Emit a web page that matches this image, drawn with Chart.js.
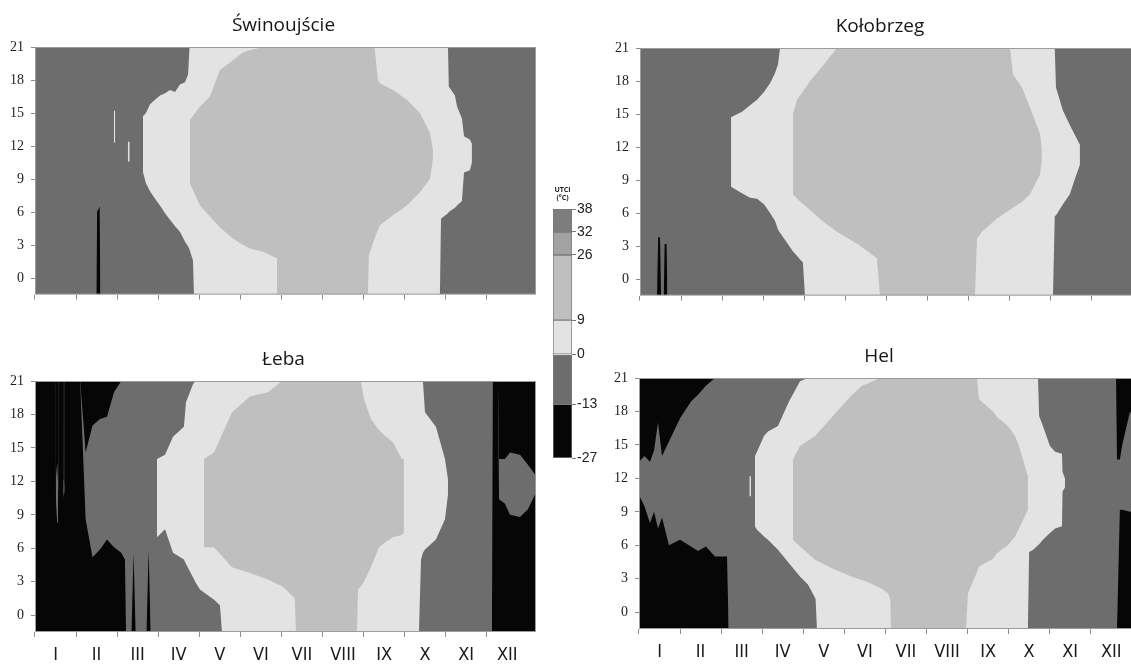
<!DOCTYPE html>
<html>
<head>
<meta charset="utf-8">
<title>UTCI</title>
<script src="https://cdn.jsdelivr.net/npm/chart.js@4.4.1/dist/chart.umd.min.js"></script>
<style>
html, body { margin: 0; padding: 0; background: #fff; overflow: hidden; }
body { width: 1131px; height: 664px; position: relative; }
canvas { position: absolute; }
</style>
</head>
<body>
<canvas id="p-swi" width="567" height="310" style="left:0;top:0"></canvas>
<canvas id="p-kol" width="550" height="310" style="left:605px;top:1px"></canvas>
<canvas id="p-leb" width="567" height="330" style="left:0;top:334px"></canvas>
<canvas id="p-hel" width="550" height="330" style="left:604px;top:331px"></canvas>
<canvas id="scale" width="71" height="295" style="left:527px;top:180px"></canvas>
<script>
// axes
var months = ['I', 'II', 'III', 'IV', 'V', 'VI', 'VII', 'VIII', 'IX', 'X', 'XI', 'XII'];
var monthMid = [15, 45, 75, 105, 135, 165, 195, 225, 255, 285, 315, 345];
var hourTicks = [0, 3, 6, 9, 12, 15, 18, 21];
var utciBounds = [-27, -13, 0, 9, 26, 32, 38];
var utciColors = ['#060606', '#6d6d6d', '#e3e3e3', '#bfbfbf', '#a2a2a2', '#7d7d7d'];

// Świnoujście  (day of year, hour where a class starts / ends)
var swiLightDay = [57.6, 58.6, 63, 67.8, 69.2, 74, 78.9, 81.1, 84.0, 87.7, 91.3, 95.0, 98.6, 102.3, 105.9, 109.6, 111.8, 112.9, 115.4, 116.1, 295.8, 296.6, 301.7, 302.3, 306.8, 308.3, 311.9, 313.4, 317.7, 319.2];
var swiLightLo = [12.3, 12.3, null, 10.6, 10.6, null, 9.6, 8.6, 7.9, 7.2, 6.6, 5.9, 5.3, 4.7, 4.2, 3.3, 2.9, 2.6, 1.6, -1.5, -1.5, 5.4, 5.9, 6.0, 6.4, 6.6, 7.0, 9.6, 9.8, 10.5];
var swiLightHi = [15.2, 15.2, null, 12.4, 12.4, null, 14.7, 15.0, 15.8, 16.2, 16.6, 16.8, 17.1, 16.9, 17.6, 17.8, 18.5, 21, 21, 21, 21, 21, 21, 17.4, 16.6, 15.6, 14.5, 12.9, 12.6, 12.2];
var swiMidDay = [113.2, 120.5, 127.8, 135.1, 144.6, 151.9, 157.0, 166.5, 176.8, 177.5, 243.2, 243.9, 248.1, 250.5, 252.0, 261.5, 271.7, 281.2, 288.5, 290.7];
var swiMidLo = [8.6, 6.6, 5.6, 4.6, 3.6, 3.0, 2.7, 2.4, 1.8, -1.5, -1.5, 2.1, 3.6, 4.4, 4.8, 5.7, 6.6, 7.8, 9.0, 10.8];
var swiMidHi = [14.4, 15.6, 16.5, 18.9, 19.8, 20.5, 20.7, 21, 21, 21, 21, 21, 21, 18.0, 17.7, 17.1, 16.2, 15.0, 13.2, 11.7];
var swiColdDay = [44.8, 45.4, 47.2, 47.8];
var swiColdLow = [-1.5, 6.0, 6.5, -1.5];
var swiColdHigh = [21, 21, 21, 21];

// Kołobrzeg
var kolLightDay = [66.5, 74.5, 80.4, 85.5, 90.6, 95.0, 98.6, 100.8, 102.3, 111.8, 119.0, 120.5, 301.7, 303.0, 303.9, 309.0, 314.0, 317.7, 321.4];
var kolLightLo = [8.4, 7.8, 7.4, 7.3, 6.8, 6.0, 5.3, 4.5, 4.2, 2.5, 1.5, -1.5, -1.5, 5.7, 5.8, 6.8, 7.7, 9.1, 10.4];
var kolLightHi = [14.7, 15.2, 15.8, 16.3, 17.0, 17.8, 18.7, 19.5, 21, 21, 21, 21, 21, 21, 17.4, 15.3, 14.0, 13.1, 12.2];
var kolMidDay = [111.8, 114.7, 124.9, 133.0, 143.9, 160.0, 173.1, 175.3, 244.7, 246.2, 249.8, 260.8, 270.3, 272.5, 279.0, 284.9, 292.2, 293.6];
var kolMidLo = [7.7, 7.3, 6.2, 5.3, 4.3, 3.1, 1.9, -1.5, -1.5, 3.7, 4.3, 5.5, 6.3, 6.5, 7.0, 7.7, 9.5, 10.9];
var kolMidHi = [15.0, 16.3, 18.1, 19.3, 21, 21, 21, 21, 21, 21, 21, 21, 21, 18.6, 17.4, 15.6, 13.2, 11.8];
var kolColdDay = [12.4, 13.3, 14.6, 15.4, 17.4, 18.0, 19.4, 20.0];
var kolColdLow = [-1.5, 3.8, 3.8, -1.5, -1.5, 3.2, 3.2, -1.5];
var kolColdHigh = [21, 21, 21, 21, 21, 21, 21, 21];

// Łeba
var lebLightDay = [89.1, 95.0, 100.8, 108.8, 110.3, 115.4, 117.0, 120.5, 130.8, 135.1, 136.6, 280.5, 282.0, 283.4, 284.9, 292.9, 299.5, 301.7];
var lebLightLo = [7.0, 7.7, 5.6, 5.0, 4.6, 3.4, 3.0, 2.3, 1.4, 0.9, -1.5, -1.5, 5.0, 5.6, 5.9, 6.8, 8.6, 10.8];
var lebLightHi = [14.0, 14.4, 16.0, 16.9, 19.1, 20.7, 21, 21, 21, 21, 21, 21, 21, 21, 18.2, 16.9, 14.0, 12.2];
var lebMidDay = [123.4, 130.8, 143.9, 157.0, 170.2, 180.4, 183.3, 189.8, 190.6, 235.2, 236.0, 238.1, 240.3, 245.4, 251.3, 256.4, 261.5, 268.0, 269.5];
var lebMidLo = [6.1, 6.1, 4.3, 3.8, 3.2, 2.6, 2.3, 1.5, -1.5, -1.5, 2.3, 2.6, 3.0, 4.3, 6.1, 6.6, 7.0, 7.2, 7.4];
var lebMidHi = [14.0, 14.6, 18.2, 19.6, 20.0, 21, 21, 21, 21, 21, 21, 21, 19.4, 17.6, 16.6, 16.0, 15.5, 14.0, 14.0];
var lebColdDay = [0, 15.2, 15.3, 15.4, 16.2, 16.8, 16.9, 17.0, 20.6, 20.7, 20.8, 21.4, 21.5, 21.6, 33, 37, 42, 47.5, 52.6, 57.7, 63, 65.7, 66.5, 70.5, 72, 73.5, 81.5, 83, 84.5, 200, 333.8, 334.5, 338.2, 339.0, 343.3, 347, 354.3, 360.1, 366];
var lebColdLow = [21, 21, 11.2, 10.0, 8.3, 10.5, 11.2, 21, 21, 11.4, 10.6, 11.0, 11.4, 21, 21, 8.6, 5.2, 5.9, 6.8, 6.1, 5.6, 5.0, -1.5, -1.5, 5.6, -1.5, -1.5, 5.9, -1.5, null, -1.5, 21, 21, 10.4, 10.0, 9.0, 8.8, 9.5, 11.0];
var lebColdHigh = [21, 21, 11.2, 12.5, 13.7, 12.0, 11.2, 21, 21, 11.4, 12.2, 12.0, 11.4, 21, 21, 14.6, 17.0, 17.6, 17.8, 20.0, 21, 21, 21, 21, 21, 21, 21, 21, 21, null, 21, 21, 21, 14.0, 14.0, 14.6, 14.4, 13.5, 12.5];

// Hel
var helLightDay = [80.6, 81.8, 82.5, 84.7, 86.2, 91.3, 94.2, 101.5, 109.6, 117.6, 123.4, 125.6, 129.0, 130.0, 284.1, 285.0, 288.0, 291.5, 292.3, 295.1, 300.2, 304.0, 309.0, 309.4, 311.2];
var helLightLo = [10.4, 10.4, null, 7.7, 7.4, 6.8, 6.5, 5.6, 4.4, 3.2, 2.5, 2.0, 1.2, -1.5, -1.5, 5.4, 5.6, 6.0, 6.1, 6.5, 7.1, 7.5, 7.7, 10.8, 11.2];
var helLightHi = [12.2, 12.2, null, 14.0, 14.4, 15.8, 16.2, 16.7, 18.9, 20.7, 21, 21, 21, 21, 21, 21, 21, 21, 17.6, 16.7, 14.9, 14.4, 14.2, 12.6, 12.0];
var helMidDay = [112.5, 117.6, 128.6, 141.7, 154.9, 162.9, 168.7, 176.0, 181.9, 183.5, 184.1, 238.9, 240.3, 246.9, 248.4, 258.6, 261.5, 269.5, 274.7, 277.6, 284.1];
var helMidLo = [6.5, 5.9, 4.7, 3.9, 3.2, 2.9, 2.6, 2.2, 1.7, 1.2, -1.5, -1.5, 1.7, 3.6, 4.1, 4.8, 5.3, 6.0, 6.8, 7.5, 9.2];
var helMidHi = [13.7, 14.9, 15.8, 17.6, 19.4, 20.3, 20.6, 21, 21, 21, 21, 21, 21, 21, 19.1, 18.0, 17.5, 16.7, 15.8, 14.9, 12.2];
var helColdDay = [0, 4, 8, 11, 13.9, 16.8, 21.9, 30, 38, 43.1, 48.9, 55.5, 64.3, 65.5, 200, 348.5, 349.2, 351.3, 353, 358.7, 366];
var helColdLow = [10.5, 9.5, 8.0, 9.0, 7.5, 8.5, 6.0, 6.5, 5.9, 5.5, 5.9, 5.0, 5.0, -1.5, null, -1.5, -1.5, 9.2, 9.2, 9.0, 9.0];
var helColdHigh = [13.5, 14.0, 13.5, 14.5, 17.0, 14.0, 15.3, 17.4, 18.9, 19.5, 20.3, 21, 21, 21, null, 21, 13.7, 13.7, 15.0, 18.0, 16.0];

var COLD = utciColors[0], COOL = utciColors[1], LIGHT = utciColors[2], MID = utciColors[3];
var NONE = 'rgba(0,0,0,0)';

function pts(days, vals) {
    return days.map(function (d, i) { return {x: d, y: vals[i]}; });
}

function area(data, color, fill, order) {
    return {
        data: data, fill: fill, order: order, yAxisID: 'y',
        backgroundColor: color, borderColor: NONE, borderWidth: 0,
        pointRadius: 0, spanGaps: false
    };
}

// thin grey frame round the plot area
var frame = {
    id: 'frame',
    afterDatasetsDraw: function (chart) {
        var a = chart.chartArea, c = chart.ctx;
        c.save();
        c.strokeStyle = '#9c9c9c';
        c.lineWidth = 1;
        c.strokeRect(a.left + 0.5, a.top + 0.5, a.right - a.left - 1, a.bottom - a.top - 1);
        c.restore();
    }
};

function showPanel(id, title, st, showMonths, rightGap, padBottom, xHeight) {
    var ds = [];
    ds.push(area([{x: 0, y: 21}, {x: 366, y: 21}], COOL, 'start', 10));
    ds.push(area(pts(st.coldDay, st.coldLow), COLD, 'start', 8));
    ds.push(area(pts(st.coldDay, st.coldHigh), COLD, 'end', 8));
    var li = ds.length;
    ds.push(area(pts(st.lightDay, st.lightLo), NONE, false, 6));
    ds.push(area(pts(st.lightDay, st.lightHi), LIGHT, li, 5));
    var mi = ds.length;
    ds.push(area(pts(st.midDay, st.midLo), NONE, false, 4));
    ds.push(area(pts(st.midDay, st.midHi), MID, mi, 3));

    new Chart(document.getElementById(id), {
        type: 'line',
        data: {datasets: ds},
        plugins: [frame],
        options: {
            responsive: false,
            animation: false,
            events: [],
            layout: {padding: {left: 0, right: 0, top: 0, bottom: padBottom}},
            plugins: {
                legend: {display: false},
                tooltip: {enabled: false},
                title: {
                    display: true,
                    text: title,
                    color: '#161616',
                    font: {family: "'Open Sans', sans-serif", size: 19, weight: 'normal', lineHeight: 1.2},
                    padding: {top: 14.6, bottom: 9.6}
                }
            },
            scales: {
                x: {
                    type: 'linear',
                    min: 0,
                    max: 366,
                    afterBuildTicks: function (s) { s.ticks = monthMid.map(function (v) { return {value: v}; }); },
                    afterFit: function (s) { s.height = xHeight; },
                    border: {display: false},
                    grid: {
                        offset: true,
                        drawOnChartArea: false,
                        tickLength: 5,
                        tickColor: function (ctx) { return ctx.type === 'tick' ? '#8c8c8c' : NONE; }
                    },
                    ticks: {
                        display: showMonths,
                        autoSkip: false,
                        maxRotation: 0,
                        padding: 8,
                        color: '#1a1a1a',
                        font: {family: "'Liberation Sans Narrow', 'DejaVu Sans Condensed', sans-serif", size: 18},
                        callback: function (v, i) { return months[i]; }
                    }
                },
                y: {
                    min: -1.5,
                    max: 21,
                    afterBuildTicks: function (s) { s.ticks = hourTicks.map(function (v) { return {value: v}; }); },
                    afterFit: function (s) { s.width = 35; },
                    border: {display: false},
                    grid: {drawOnChartArea: false, tickLength: 4, tickColor: '#8c8c8c'},
                    ticks: {
                        padding: 7,
                        color: '#1e1e1e',
                        font: {family: "'Liberation Serif', serif", size: 14}
                    }
                },
                // empty strip on the right so the title sits over the plot
                yr: {
                    axis: 'y',
                    position: 'right',
                    min: -1.5,
                    max: 21,
                    afterFit: function (s) { s.width = rightGap; },
                    border: {display: false},
                    grid: {display: false, drawTicks: false},
                    ticks: {display: false}
                }
            }
        }
    });
}

showPanel('p-swi', 'Świnoujście', {
    lightDay: swiLightDay, lightLo: swiLightLo, lightHi: swiLightHi,
    midDay: swiMidDay, midLo: swiMidLo, midHi: swiMidHi,
    coldDay: swiColdDay, coldLow: swiColdLow, coldHigh: swiColdHigh
}, false, 31, 5, 8);

showPanel('p-kol', 'Kołobrzeg', {
    lightDay: kolLightDay, lightLo: kolLightLo, lightHi: kolLightHi,
    midDay: kolMidDay, midLo: kolMidLo, midHi: kolMidHi,
    coldDay: kolColdDay, coldLow: kolColdLow, coldHigh: kolColdHigh
}, false, 14, 4, 8);

showPanel('p-leb', 'Łeba', {
    lightDay: lebLightDay, lightLo: lebLightLo, lightHi: lebLightHi,
    midDay: lebMidDay, midLo: lebMidLo, midHi: lebMidHi,
    coldDay: lebColdDay, coldLow: lebColdLow, coldHigh: lebColdHigh
}, true, 31, 0, 32);

showPanel('p-hel', 'Hel', {
    lightDay: helLightDay, lightLo: helLightLo, lightHi: helLightHi,
    midDay: helMidDay, midLo: helMidLo, midHi: helMidHi,
    coldDay: helColdDay, coldLow: helColdLow, coldHigh: helColdHigh
}, true, 14, 0, 32);

// colour scale
new Chart(document.getElementById('scale'), {
    type: 'bar',
    data: {
        labels: ['UTCI'],
        datasets: utciColors.map(function (c, i) {
            return {
                data: [[utciBounds[i], utciBounds[i + 1]]],
                backgroundColor: c,
                borderColor: '#7a7a7a',
                borderWidth: 1,
                borderSkipped: false,
                grouped: false,
                barPercentage: 1,
                categoryPercentage: 1
            };
        })
    },
    options: {
        responsive: false,
        animation: false,
        events: [],
        layout: {padding: {left: 26, right: 0, top: 6, bottom: 17}},
        plugins: {
            legend: {display: false},
            tooltip: {enabled: false}
        },
        scales: {
            x: {
                position: 'top',
                afterFit: function (s) { s.height = 23; },
                border: {display: false},
                grid: {display: false, drawTicks: false},
                ticks: {display: false},
                title: {
                    display: true,
                    text: ['UTCI', '(°C)'],
                    color: '#222',
                    font: {family: "'Open Sans', sans-serif", size: 7, weight: 'bold', lineHeight: 1.1},
                    padding: {top: 0, bottom: 0}
                }
            },
            y: {
                position: 'right',
                min: -27,
                max: 38,
                afterBuildTicks: function (s) { s.ticks = utciBounds.map(function (v) { return {value: v}; }); },
                afterFit: function (s) { s.width = 26; },
                border: {display: false},
                grid: {drawOnChartArea: false, tickLength: 4, tickColor: '#777'},
                ticks: {
                    padding: 1,
                    color: '#222',
                    font: {family: "'Liberation Sans', sans-serif", size: 14}
                }
            }
        }
    }
});
</script>
</body>
</html>
